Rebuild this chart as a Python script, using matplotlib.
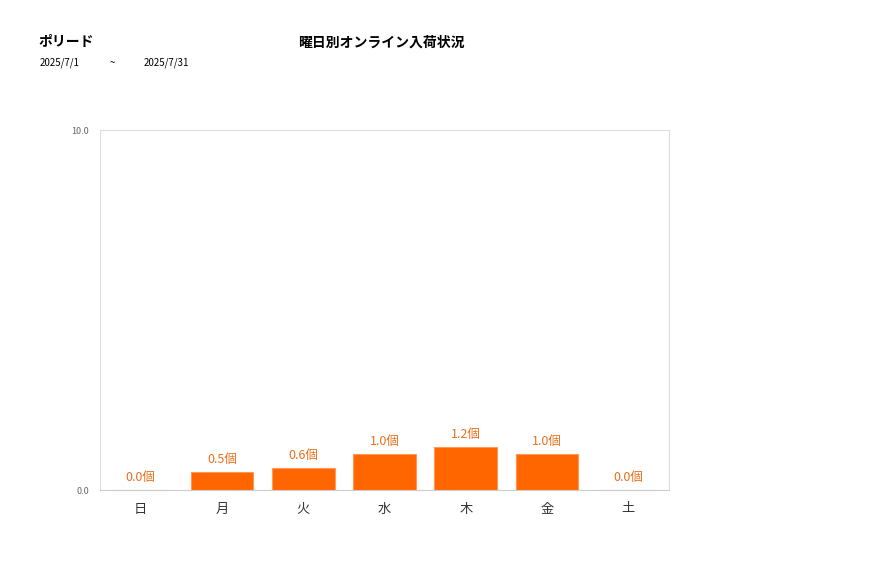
import matplotlib.pyplot as plt

plt.rcParams['font.family'] = ['Noto Sans CJK JP', 'DejaVu Sans']

days = ['日', '月', '火', '水', '木', '金', '土']
counts = [0.0, 0.5, 0.6, 1.0, 1.2, 1.0, 0.0]
ytick_vals = [0.0, 10.0]

fig = plt.figure(figsize=(8.77, 5.78), dpi=100)
ax = fig.add_axes([100/877, 88/578, 569/877, 360/578])

bars = ax.bar(range(len(days)), counts, width=0.77, color='#ff6600',
              edgecolor='#ff9955', linewidth=0.8)
for i, v in enumerate(counts):
    ax.text(i, v + 0.17, f'{v:.1f}個', ha='center', va='bottom',
            fontsize=9, color='#e8701e')

ax.set_xlim(-0.5, len(days) - 0.5)
ax.set_ylim(0, 10)
ax.set_yticks(ytick_vals)
ax.set_yticklabels([f'{v:.1f}' for v in ytick_vals], fontsize=6.5, color='#666666')
ax.set_xticks(range(len(days)))
ax.set_xticklabels(days, fontsize=9.5, color='#333333')
ax.tick_params(axis='both', length=0)
ax.tick_params(axis='x', pad=9)
ax.tick_params(axis='y', pad=8)
for s in ax.spines.values():
    s.set_color('#dddddd')
    s.set_linewidth(0.8)
ax.spines['bottom'].set_color('#cccccc')

fig.text(38/877, 1 - 42/578, 'ポリード', fontsize=10, fontweight='bold', va='center')
fig.text(40/877, 1 - 63/578, '2025/7/1', fontsize=7, va='center')
fig.text(110/877, 1 - 63/578, '~', fontsize=7, va='center')
fig.text(144/877, 1 - 63/578, '2025/7/31', fontsize=7, va='center')
fig.text(381/877, 1 - 43/578, '曜日別オンライン入荷状況', fontsize=10,
         fontweight='bold', ha='center', va='center')

fig.savefig('out.png', dpi=100)
